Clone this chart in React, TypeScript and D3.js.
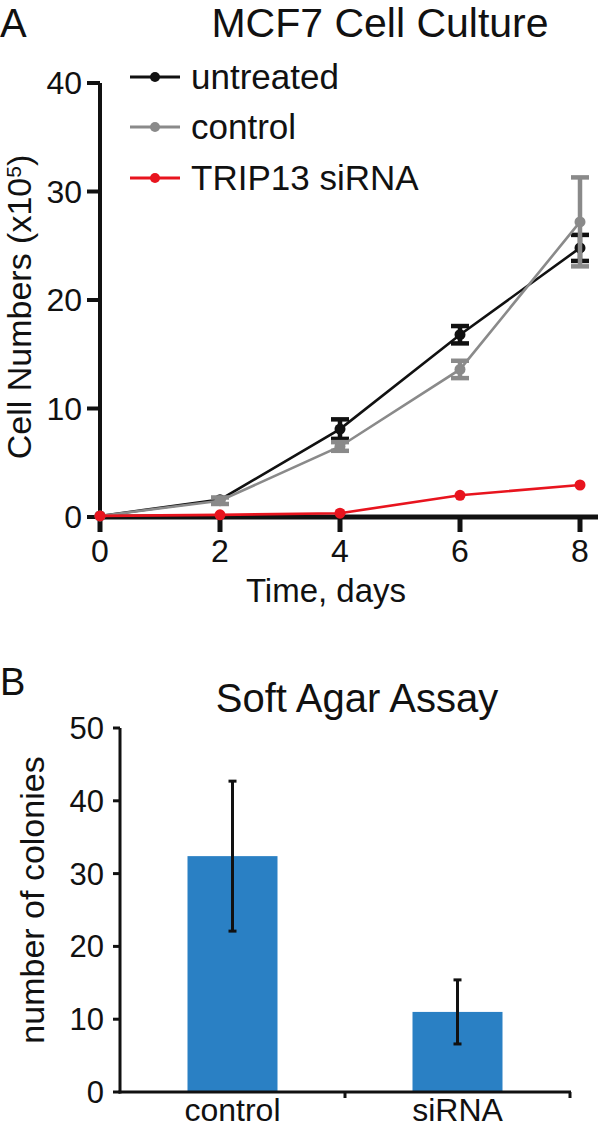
import React from "react";
import * as d3 from "d3";

const days = [0, 2, 4, 6, 8];
const untreated = [0.1, 1.6, 8.1, 16.8, 24.8];
const untreatedErr = [0, 0.2, 0.9, 0.8, 1.2];
const control = [0.1, 1.5, 6.5, 13.6, 27.2];
const controlErr = [0, 0.3, 0.4, 0.8, 4.1];
const sirna = [0.1, 0.2, 0.35, 2.0, 2.95];
const sirnaErr = [0, 0, 0, 0, 0];
const yTicksA = [0, 10, 20, 30, 40];

const barCats = ["control", "siRNA"];
const barVals = [32.4, 11.0];
const barErr = [10.3, 4.4];
const yTicksB = [0, 10, 20, 30, 40, 50];

const FONT = "'Liberation Sans', Arial, Helvetica, sans-serif";

const series = [
  { name: "untreated", vals: untreated, err: untreatedErr, color: "#111111" },
  { name: "control", vals: control, err: controlErr, color: "#8a8a8a" },
  { name: "TRIP13 siRNA", vals: sirna, err: sirnaErr, color: "#e8141e" },
];

export default function App() {
  const xA = d3.scaleLinear().domain([0, 8]).range([100, 580]);
  const yA = d3.scaleLinear().domain([0, 40]).range([517, 83]);
  const line = d3
    .line<number>()
    .x((_, i) => xA(days[i]))
    .y((d) => yA(d));

  const xB = d3
    .scaleBand<string>()
    .domain(barCats)
    .range([120, 570])
    .paddingInner(0.6)
    .paddingOuter(0.3);
  const yB = d3.scaleLinear().domain([0, 50]).range([1092, 728]);

  return (
    <svg
      width={600}
      height={1131}
      style={{ position: "absolute", left: 0, top: 0, background: "#fff" }}
      fontFamily={FONT}
    >
      <rect x={0} y={0} width={600} height={1131} fill="#fff" />
      {/* Panel A */}
      <text x={0} y={37} fontSize={40} fill="#111">A</text>
      <text x={380} y={37} fontSize={41} textAnchor="middle" fill="#111">
        MCF7 Cell Culture
      </text>
      {/* y axis */}
      <line x1={100} x2={100} y1={yA(40)} y2={yA(0) + 2} stroke="#111" strokeWidth={4} />
      {yTicksA.map((t) => (
        <g key={t}>
          <line x1={87} x2={100} y1={yA(t)} y2={yA(t)} stroke="#111" strokeWidth={4} />
          <text x={82} y={yA(t) + 11} fontSize={32} textAnchor="end" fill="#111">
            {t}
          </text>
        </g>
      ))}
      {/* x axis */}
      <line x1={98} x2={598} y1={yA(0)} y2={yA(0)} stroke="#111" strokeWidth={5} />
      {days.map((d) => (
        <g key={d}>
          <line x1={xA(d)} x2={xA(d)} y1={yA(0)} y2={yA(0) + 15} stroke="#111" strokeWidth={5} />
          <text x={xA(d)} y={562} fontSize={32} textAnchor="middle" fill="#111">
            {d}
          </text>
        </g>
      ))}
      <text x={326} y={602} fontSize={33} textAnchor="middle" fill="#111">
        Time, days
      </text>
      <text
        transform={`translate(31,${307}) rotate(-90)`}
        fontSize={34}
        textAnchor="middle"
        fill="#111"
      >
        Cell Numbers (x10
        <tspan dy={-10} fontSize={21}>5</tspan>
        <tspan dy={10}>)</tspan>
      </text>
      {/* series */}
      {series.map((s) => (
        <g key={s.name}>
          <path d={line(s.vals) || ""} fill="none" stroke={s.color} strokeWidth={2.6} />
          {s.vals.map((v, i) =>
            s.err[i] > 0.25 ? (
              <g key={i} stroke={s.color} strokeWidth={4.5}>
                <line x1={xA(days[i])} x2={xA(days[i])} y1={yA(v - s.err[i])} y2={yA(v + s.err[i])} />
                <line x1={xA(days[i]) - 9} x2={xA(days[i]) + 9} y1={yA(v - s.err[i])} y2={yA(v - s.err[i])} />
                <line x1={xA(days[i]) - 9} x2={xA(days[i]) + 9} y1={yA(v + s.err[i])} y2={yA(v + s.err[i])} />
              </g>
            ) : null
          )}
          {s.vals.map((v, i) => (
            <circle key={"c" + i} cx={xA(days[i])} cy={yA(v)} r={5.5} fill={s.color} />
          ))}
        </g>
      ))}
      {/* legend */}
      {series.map((s, i) => {
        const ly = [77, 127, 178][i];
        return (
          <g key={"lg" + s.name}>
            <line x1={130} x2={180} y1={ly} y2={ly} stroke={s.color} strokeWidth={3} />
            <circle cx={155} cy={ly} r={5} fill={s.color} />
            <text x={191} y={ly + 12} fontSize={35} fill="#111">
              {s.name}
            </text>
          </g>
        );
      })}

      {/* Panel B */}
      <text x={0} y={695} fontSize={38} fill="#111">B</text>
      <text x={357} y={712} fontSize={40} textAnchor="middle" fill="#111">
        Soft Agar Assay
      </text>
      <text
        transform={`translate(44,${900}) rotate(-90)`}
        fontSize={34}
        textAnchor="middle"
        fill="#111"
      >
        number of colonies
      </text>
      {barCats.map((c, i) => (
        <rect
          key={c}
          x={xB(c)}
          y={yB(barVals[i])}
          width={xB.bandwidth()}
          height={yB(0) - yB(barVals[i])}
          fill="#2a80c4"
        />
      ))}
      {barCats.map((c, i) => {
        const cx = (xB(c) || 0) + xB.bandwidth() / 2;
        const lo = yB(barVals[i] - barErr[i]);
        const hi = yB(barVals[i] + barErr[i]);
        return (
          <g key={"e" + c} stroke="#111" strokeWidth={3}>
            <line x1={cx} x2={cx} y1={lo} y2={hi} />
            <line x1={cx - 4} x2={cx + 4} y1={lo} y2={lo} />
            <line x1={cx - 4} x2={cx + 4} y1={hi} y2={hi} />
          </g>
        );
      })}
      <line x1={120} x2={120} y1={yB(50)} y2={yB(0) + 1.5} stroke="#111" strokeWidth={3} />
      {yTicksB.map((t) => (
        <g key={"b" + t}>
          <line x1={113} x2={120} y1={yB(t)} y2={yB(t)} stroke="#111" strokeWidth={3} />
          <text x={104} y={yB(t) + 11} fontSize={31} textAnchor="end" fill="#111">
            {t}
          </text>
        </g>
      ))}
      <line x1={118.5} x2={571} y1={yB(0)} y2={yB(0)} stroke="#111" strokeWidth={3} />
      {[345, 570].map((x) => (
        <line key={"xt" + x} x1={x} x2={x} y1={yB(0)} y2={yB(0) + 6} stroke="#111" strokeWidth={3} />
      ))}
      {barCats.map((c) => (
        <text
          key={"xl" + c}
          x={(xB(c) || 0) + xB.bandwidth() / 2}
          y={1121}
          fontSize={32}
          textAnchor="middle"
          fill="#111"
        >
          {c}
        </text>
      ))}
    </svg>
  );
}
